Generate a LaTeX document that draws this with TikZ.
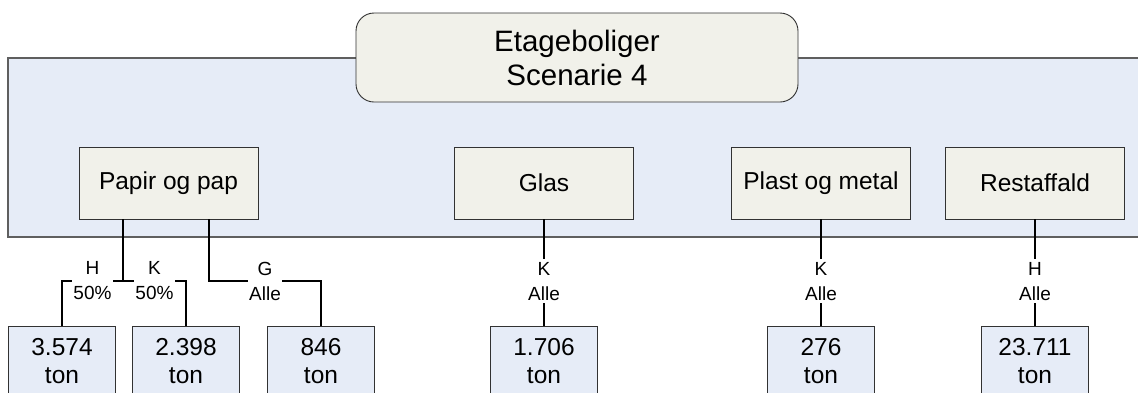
\documentclass[tikz,border=0pt]{standalone}
\usepackage{fontspec}
\setmainfont{Liberation Sans}
\definecolor{panel}{RGB}{230,236,247}
\definecolor{boxfill}{RGB}{241,241,234}
\definecolor{edge}{RGB}{50,50,50}
\definecolor{panedge}{RGB}{95,95,95}
\begin{document}
\begin{tikzpicture}[x=1pt,y=-1pt,
  cat/.style={draw=edge, line width=0.9pt, fill=boxfill, minimum width=179pt,
    minimum height=72pt, inner sep=0pt, font=\fontsize{24.5}{28}\selectfont},
  amount/.style={draw=edge, line width=0.9pt, fill=panel, minimum width=107pt,
    inner xsep=0pt, inner ysep=11.5pt, align=center, anchor=north,
    font=\fontsize{24.5}{28}\selectfont},
  lbl/.style={fill=white, inner xsep=1pt, inner ysep=3pt, align=center,
    font=\fontsize{19}{25}\selectfont},
  conn/.style={line width=1.5pt, draw=black}]
\useasboundingbox (0,0) rectangle (1138,392);
\clip (0,0) rectangle (1138,392);
\fill[white] (0,0) rectangle (1138,392);
% panel
\draw[panedge, line width=1.3pt, fill=panel] (8,58) rectangle (1160,237);
% title
\node[draw=edge, line width=0.9pt, fill=boxfill, rounded corners=18pt,
  minimum width=442pt, minimum height=89pt, inner sep=0pt, align=center,
  font=\fontsize{29.5}{34}\selectfont] (title) at (577,57.5) {Etageboliger\\Scenarie 4};
% categories
\node[cat] (papir) at (168.5,183) {Papir og pap};
\node[cat] (glas) at (544,183) {Glas};
\node[cat] (plast) at (821,183) {Plast og metal};
\node[cat] (rest) at (1035,183) {Restaffald};
% amounts
\node[amount] (b1) at (62,326) {3.574\\ton};
\node[amount] (b2) at (186,326) {2.398\\ton};
\node[amount] (b3) at (321,326) {846\\ton};
\node[amount] (b4) at (544,326) {1.706\\ton};
\node[amount] (b5) at (821,326) {276\\ton};
\node[amount] (b6) at (1035,326) {23.711\\ton};
% junctions
\coordinate (j1) at (123,281);
\coordinate (j2) at (209,281);
% connectors
\draw[conn] (papir.south -| j1) -- (j1);
\draw[conn] (j1) -| (b1.north) node[lbl, pos=0.25] {H\\50\%};
\draw[conn] (j1) -| (b2.north) node[lbl, pos=0.25] {K\\50\%};
\draw[conn] (papir.south -| j2) -- (j2) -| (b3.north) node[lbl, pos=0.25] {G\\Alle};
\draw[conn] (glas.south) -- (b4.north) node[lbl, pos=0.58] {K\\Alle};
\draw[conn] (plast.south) -- (b5.north) node[lbl, pos=0.58] {K\\Alle};
\draw[conn] (rest.south) -- (b6.north) node[lbl, pos=0.58] {H\\Alle};
\end{tikzpicture}
\end{document}
